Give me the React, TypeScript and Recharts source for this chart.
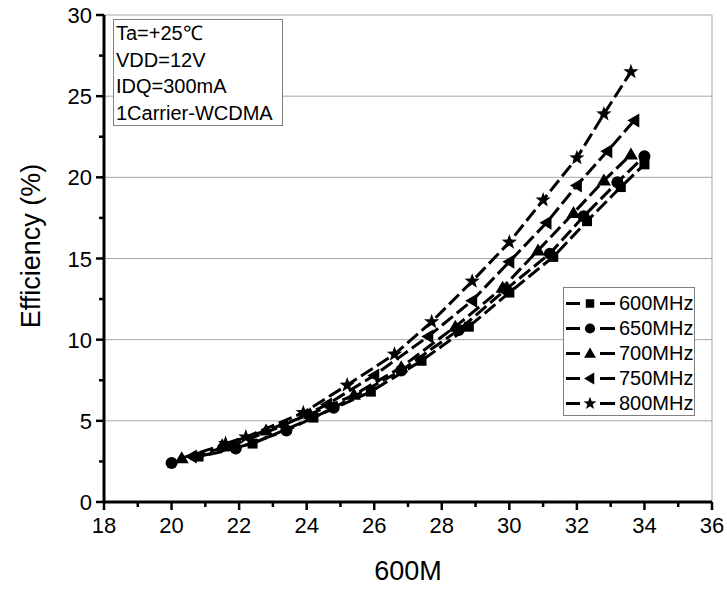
import React from "react";
import { LineChart, Line, XAxis, YAxis, CartesianGrid } from "recharts";

const FONT = '"Liberation Sans", Arial, Helvetica, sans-serif';

// ── axis ticks ───────────────────────────────────────────────────
const xTicks = [18, 19, 20, 21, 22, 23, 24, 25, 26, 27, 28, 29, 30, 31, 32, 33, 34, 35, 36];
const xMajor = [18, 20, 22, 24, 26, 28, 30, 32, 34, 36];
const yTicks = [0, 2.5, 5, 7.5, 10, 12.5, 15, 17.5, 20, 22.5, 25, 27.5, 30];
const yMajor = [0, 5, 10, 15, 20, 25, 30];

// ── data (Pout dBm / efficiency %) ───────────────────────────────
const pout600 = [20.8, 22.4, 24.2, 25.9, 27.4, 28.8, 30.0, 31.3, 32.3, 33.3, 34.0];
const eff600 = [2.8, 3.6, 5.2, 6.8, 8.7, 10.8, 12.9, 15.1, 17.3, 19.4, 20.8];

const pout650 = [20.0, 21.9, 23.4, 24.8, 26.8, 28.5, 29.9, 31.2, 32.2, 33.2, 34.0];
const eff650 = [2.4, 3.3, 4.4, 5.8, 8.1, 10.6, 13.1, 15.3, 17.6, 19.7, 21.3];

const pout700 = [20.3, 21.5, 22.8, 24.1, 25.4, 26.8, 28.4, 29.8, 30.85, 31.9, 32.8, 33.6];
const eff700 = [2.7, 3.5, 4.4, 5.4, 6.6, 8.3, 10.8, 13.2, 15.5, 17.8, 19.8, 21.4];

const pout750 = [20.6, 21.8, 23.3, 24.6, 26.0, 27.6, 28.9, 30.0, 31.1, 32.0, 32.9, 33.7];
const eff750 = [2.8, 3.5, 4.7, 6.0, 7.8, 10.2, 12.4, 14.8, 17.2, 19.5, 21.6, 23.5];

const pout800 = [21.6, 22.2, 23.9, 25.2, 26.6, 27.7, 28.9, 30.0, 31.0, 32.0, 32.8, 33.6];
const eff800 = [3.6, 4.0, 5.5, 7.2, 9.1, 11.1, 13.6, 16.0, 18.6, 21.2, 23.9, 26.5];

const notes = ["Ta=+25℃", "VDD=12V", "IDQ=300mA", "1Carrier-WCDMA"];

type Shape = "square" | "circle" | "triangle" | "left" | "star";

const series: { name: string; shape: Shape; x: number[]; y: number[] }[] = [
  { name: "600MHz", shape: "square", x: pout600, y: eff600 },
  { name: "650MHz", shape: "circle", x: pout650, y: eff650 },
  { name: "700MHz", shape: "triangle", x: pout700, y: eff700 },
  { name: "750MHz", shape: "left", x: pout750, y: eff750 },
  { name: "800MHz", shape: "star", x: pout800, y: eff800 },
];

const toRows = (xs: number[], ys: number[]) => xs.map((x, i) => ({ x, y: ys[i] }));

// ── markers ──────────────────────────────────────────────────────
function starPoints(cx: number, cy: number, R: number, r: number) {
  const pts: string[] = [];
  for (let i = 0; i < 10; i++) {
    const a = -Math.PI / 2 + (i * Math.PI) / 5;
    const rad = i % 2 === 0 ? R : r;
    pts.push(`${cx + rad * Math.cos(a)},${cy + rad * Math.sin(a)}`);
  }
  return pts.join(" ");
}

function Marker({ cx, cy, shape, scale = 1 }: { cx: number; cy: number; shape: Shape; scale?: number }) {
  const s = scale;
  switch (shape) {
    case "square":
      return <rect x={cx - 5 * s} y={cy - 5 * s} width={10 * s} height={10 * s} fill="#000" />;
    case "circle":
      return <circle cx={cx} cy={cy} r={6 * s} fill="#000" />;
    case "triangle":
      return <polygon points={`${cx},${cy - 7 * s} ${cx + 7 * s},${cy + 5 * s} ${cx - 7 * s},${cy + 5 * s}`} fill="#000" />;
    case "left":
      return <polygon points={`${cx - 7 * s},${cy} ${cx + 5 * s},${cy - 7 * s} ${cx + 5 * s},${cy + 7 * s}`} fill="#000" />;
    default:
      return <polygon points={starPoints(cx, cy, 8 * s, 3.3 * s)} fill="#000" />;
  }
}

// ── custom ticks ─────────────────────────────────────────────────
const BottomTick = (p: any) => {
  const v = p.payload.value;
  const major = xMajor.includes(v);
  return (
    <g>
      <line x1={p.x} x2={p.x} y1={p.y} y2={p.y + (major ? 8 : 5)} stroke="#000" strokeWidth={2.5} />
      {major && (
        <text x={p.x} y={p.y + 31} textAnchor="middle" fontSize={22} fontFamily={FONT} fill="#000">
          {v}
        </text>
      )}
    </g>
  );
};

const LeftTick = (p: any) => {
  const v = p.payload.value;
  const major = yMajor.includes(v);
  return (
    <g>
      <line x1={p.x} x2={p.x - (major ? 8 : 5)} y1={p.y} y2={p.y} stroke="#000" strokeWidth={2.5} />
      {major && (
        <text x={p.x - 12} y={p.y + 8} textAnchor="end" fontSize={22} fontFamily={FONT} fill="#000">
          {v}
        </text>
      )}
    </g>
  );
};

const TopTick = (p: any) => (
  <line x1={p.x} x2={p.x} y1={p.y} y2={p.y + (xMajor.includes(p.payload.value) ? 8 : 5)} stroke="#000" strokeWidth={2.5} />
);

const RightTick = (p: any) => (
  <line x1={p.x} x2={p.x - (yMajor.includes(p.payload.value) ? 8 : 5)} y1={p.y} y2={p.y} stroke="#000" strokeWidth={2.5} />
);

const axisLine = { stroke: "#000", strokeWidth: 3 };

export default function App() {
  return (
    <div style={{ position: "absolute", left: 0, top: 0, width: 727, height: 591, background: "#fff", fontFamily: FONT }}>
      <LineChart width={727} height={591} margin={{ top: 15, right: 15, left: 34, bottom: 9 }}>
        <XAxis xAxisId="grid" type="number" domain={[18, 36]} ticks={xMajor} allowDataOverflow hide />
        <YAxis yAxisId="grid" type="number" domain={[0, 30]} ticks={yMajor} allowDataOverflow hide />
        <CartesianGrid xAxisId="grid" yAxisId="grid" stroke="#a6a6a6" strokeWidth={1} />

        <XAxis
          dataKey="x"
          type="number"
          domain={[18, 36]}
          ticks={xTicks}
          allowDataOverflow
          height={80}
          tickSize={0}
          tickMargin={0}
          tickLine={false}
          tick={BottomTick}
          axisLine={axisLine}
          interval={0}
          label={{
            content: () => (
              <text x={408} y={580} textAnchor="middle" fontSize={27} fontFamily={FONT} fill="#000">
                600M
              </text>
            ),
          }}
        />
        <YAxis
          type="number"
          domain={[0, 30]}
          ticks={yTicks}
          allowDataOverflow
          width={70}
          tickSize={0}
          tickMargin={0}
          tickLine={false}
          tick={LeftTick}
          axisLine={axisLine}
          interval={0}
          label={{
            content: () => (
              <text x={40} y={246} transform="rotate(-90 40 246)" textAnchor="middle" fontSize={27} fontFamily={FONT} fill="#000">
                Efficiency (%)
              </text>
            ),
          }}
        />
        <XAxis
          xAxisId="top"
          orientation="top"
          type="number"
          domain={[18, 36]}
          ticks={xTicks}
          allowDataOverflow
          height={0}
          tickSize={0}
          tickMargin={0}
          tickLine={false}
          tick={TopTick}
          axisLine={axisLine}
          interval={0}
        />
        <YAxis
          yAxisId="right"
          orientation="right"
          type="number"
          domain={[0, 30]}
          ticks={yTicks}
          allowDataOverflow
          width={0}
          tickSize={0}
          tickMargin={0}
          tickLine={false}
          tick={RightTick}
          axisLine={axisLine}
          interval={0}
        />

        {series.map((s) => (
          <Line
            key={s.name}
            data={toRows(s.x, s.y)}
            dataKey="y"
            name={s.name}
            type="linear"
            stroke="#000"
            strokeWidth={3}
            strokeDasharray="14 5"
            isAnimationActive={false}
            dot={(p: any) => <Marker key={`${s.name}-${p.index}`} cx={p.cx} cy={p.cy} shape={s.shape} />}
            activeDot={false}
          />
        ))}
      </LineChart>

      {/* conditions box */}
      <div
        style={{
          position: "absolute",
          left: 113,
          top: 19,
          width: 166,
          height: 105,
          border: "1px solid #808080",
          background: "#fff",
          boxSizing: "content-box",
          paddingLeft: 2,
          fontSize: 20,
          lineHeight: "26.5px",
          color: "#000",
        }}
      >
        {notes.map((n) => (
          <div key={n} style={{ whiteSpace: "nowrap" }}>{n}</div>
        ))}
      </div>

      {/* legend */}
      <div
        style={{
          position: "absolute",
          left: 563,
          top: 287,
          width: 132,
          height: 129,
          border: "1px solid #808080",
          background: "#fff",
          paddingTop: 3,
          boxSizing: "border-box",
        }}
      >
        {series.map((s) => (
          <div key={s.name} style={{ display: "flex", alignItems: "center", height: 25 }}>
            <svg width={55} height={25} style={{ display: "block" }}>
              <line x1={2} x2={16} y1={12.5} y2={12.5} stroke="#000" strokeWidth={3} />
              <line x1={36} x2={51} y1={12.5} y2={12.5} stroke="#000" strokeWidth={3} />
              <Marker cx={26} cy={12.5} shape={s.shape} scale={0.85} />
            </svg>
            <span style={{ fontSize: 20, color: "#000", whiteSpace: "nowrap" }}>{s.name}</span>
          </div>
        ))}
      </div>
    </div>
  );
}
